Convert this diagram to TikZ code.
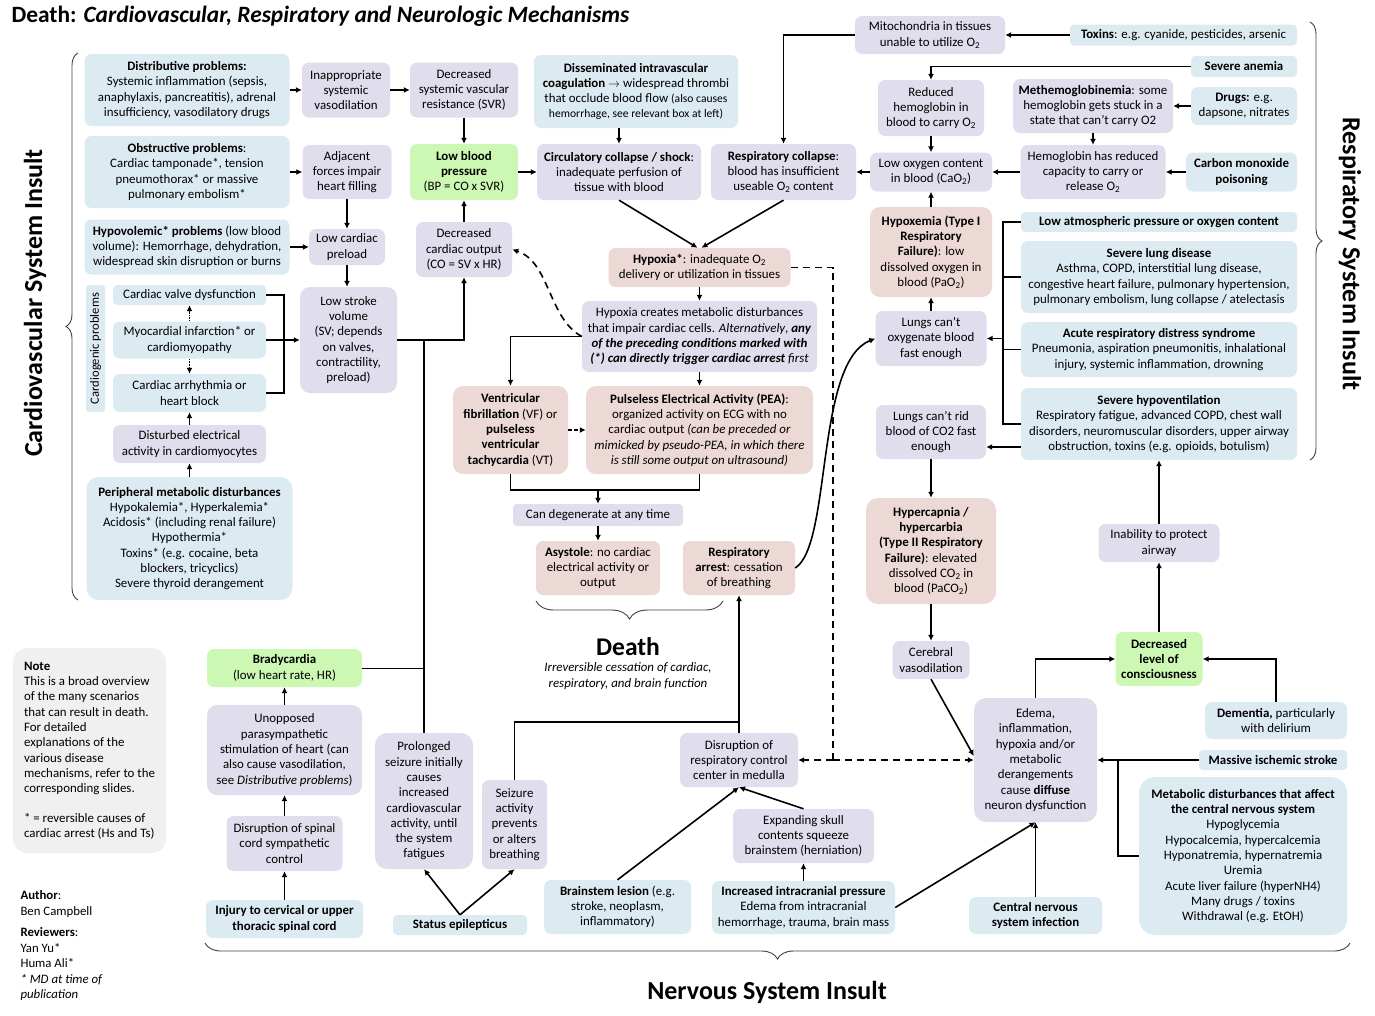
\documentclass[tikz,border=0pt]{standalone}
\usepackage{fontspec}
\setmainfont{Carlito}
\usepackage{tikz}
\usetikzlibrary{arrows.meta,decorations.pathreplacing,calc}
\definecolor{cblue}{RGB}{220,234,241}
\definecolor{clav}{RGB}{224,221,236}
\definecolor{cpink}{RGB}{236,216,213}
\definecolor{cgreen}{RGB}{205,248,180}
\definecolor{cnote}{RGB}{240,240,240}
\newcommand{\fs}{\fontsize{12.9}{15.3}\selectfont}
\newcommand{\sm}{\fontsize{11.6}{13}\selectfont}
\newcommand{\Ox}{O\textsubscript{2}}

\begin{document}
\begin{tikzpicture}[x=1pt, y=-1pt, font=\fs,
  box/.style 2 args={rounded corners=7, inner sep=1pt, align=center, minimum width=#1, minimum height=#2},
  bl/.style={fill=cblue}, lv/.style={fill=clav}, pk/.style={fill=cpink}, gr/.style={fill=cgreen},
  ln/.style={line width=1.6pt},
  ar/.style={ln, -{Latex[length=6pt,width=6pt]}},
  dsh/.style={ln, dash pattern=on 7pt off 5pt},
  brc/.style={draw=black!75, line width=0.9pt, decorate, decoration={brace, amplitude=#1}},
  big/.style={font=\fontsize{26}{30}\selectfont\bfseries}]
  \useasboundingbox (0,0) rectangle (1375,1015);

  \node[anchor=west, font=\fontsize{23.4}{27}\selectfont\bfseries] (title) at (8,16) {Death: \textit{Cardiovascular, Respiratory and Neurologic Mechanisms}};
  \node[big, rotate=90] (cvlbl) at (35,303) {Cardiovascular System Insult};
  \node[big, rotate=-90] (rslbl) at (1350,254) {Respiratory System Insult};
  \node[big] (nslbl) at (767,992) {Nervous System Insult};
  \draw[brc=12] (78,600) -- (78,53);
  \draw[brc=12] (1310,22) -- (1310,460);
  \draw[brc=16] (1350,943) -- (205,943);
  \draw[brc=18] (723,601) -- (536,601);
  \node[font=\fontsize{25.5}{30}\selectfont\bfseries] (death) at (628,647) {Death};
  \node[font=\fontsize{12.9}{15.3}\selectfont\itshape, align=center] (deathtxt) at (628,676) {Irreversible cessation of cardiac,\\respiratory, and brain function};

  \node[fill=cnote, box={153}{205}, rounded corners=14, align=left] (note) at (89.5,750.5) {\textbf{Note}\\This is a broad overview\\of the many scenarios\\that can result in death.\\For detailed\\explanations of the\\various disease\\mechanisms, refer to the\\corresponding slides.\\[14pt]* = reversible causes of\\cardiac arrest (Hs and Ts)};
  \node[anchor=north west, align=left, font=\fontsize{12.8}{15.5}\selectfont] (auth) at (17,887) {\textbf{Author}:\\Ben Campbell\\[6pt]\textbf{Reviewers}:\\Yan Yu*\\Huma Ali*\\\textit{* MD at time of}\\\textit{publication}};

  \node[bl, box={205}{72}] (distr) at (187,90) {\textbf{Distributive problems:}\\Systemic inflammation (sepsis,\\anaphylaxis, pancreatitis), adrenal\\insufficiency, vasodilatory drugs};
  \node[bl, box={205}{72}] (obstr) at (187,172) {\textbf{Obstructive problems}:\\Cardiac tamponade*, tension\\pneumothorax* or massive\\pulmonary embolism*};
  \node[bl, box={205}{55}] (hypov) at (187,247) {\textbf{Hypovolemic* problems} (low blood\\volume): Hemorrhage, dehydration,\\widespread skin disruption or burns};
  \node[bl, box={127}{19}, rounded corners=3, rotate=90, font=\fontsize{12.6}{13}\selectfont] (cgl) at (95.5,348.5) {Cardiogenic problems};
  \node[bl, box={153}{20}, rounded corners=4] (valve) at (189.5,295) {Cardiac valve dysfunction};
  \node[bl, box={153}{37}] (mi) at (189.5,340) {Myocardial infarction* or\\cardiomyopathy};
  \node[bl, box={153}{38}] (arrh) at (189.5,393) {Cardiac arrhythmia or\\heart block};
  \node[lv, box={153}{38}] (dist) at (189.5,444) {Disturbed electrical\\activity in cardiomyocytes};
  \node[bl, box={206}{123}, rounded corners=12] (periph) at (189.5,538.5) {\textbf{Peripheral metabolic disturbances}\\Hypokalemia*, Hyperkalemia*\\Acidosis* (including renal failure)\\Hypothermia*\\Toxins* (e.g. cocaine, beta\\blockers, tricyclics)\\Severe thyroid derangement};

  \node[lv, box={88}{55}] (inapp) at (346,90) {Inappropriate\\systemic\\vasodilation};
  \node[lv, box={89}{54}] (adj) at (347,172) {Adjacent\\forces impair\\heart filling};
  \node[lv, box={76}{36}] (lowpre) at (347,247) {Low cardiac\\preload};
  \node[lv, box={97}{106}, rounded corners=10] (lsv) at (348.5,340) {Low stroke\\volume\\(SV; depends\\on valves,\\contractility,\\preload)};
  \node[lv, box={108}{55}] (dsvr) at (464,90) {Decreased\\systemic vascular\\resistance (SVR)};
  \node[gr, box={108}{56}] (lowbp) at (464,172) {\textbf{Low blood}\\\textbf{pressure}\\(BP = CO x SVR)};
  \node[lv, box={96}{55}] (dco) at (464,249.5) {Decreased\\cardiac output\\(CO = SV x HR)};
  \node[bl, box={204}{73}] (dic) at (636,91.5) {\textbf{Disseminated intravascular}\\\textbf{coagulation} $\rightarrow$ widespread thrombi\\that occlude blood flow {\sm (also causes}\\{\sm hemorrhage, see relevant box at left)}};
  \node[lv, box={164}{56}] (circ) at (619,172) {\textbf{Circulatory collapse / shock}:\\inadequate perfusion of\\tissue with blood};
  \node[lv, box={145}{56}] (respcol) at (783.5,172) {\textbf{Respiratory collapse}:\\blood has insufficient\\useable \Ox{} content};
  \node[pk, box={182}{39}] (hypoxia) at (699.5,267.5) {\textbf{Hypoxia*}: inadequate \Ox\\delivery or utilization in tissues};
  \node[lv, box={235}{71}] (hcm) at (699.5,336.5) {Hypoxia creates metabolic disturbances\\that impair cardiac cells. \textit{Alternatively}, \textbf{\textit{any}}\\\textbf{\textit{of the preceding conditions marked with}}\\\textbf{\textit{(*) can directly trigger cardiac arrest}} \textit{first}};
  \node[pk, box={115}{88}, rounded corners=10] (vf) at (510.5,430) {\textbf{Ventricular}\\\textbf{fibrillation} (VF) or\\\textbf{pulseless}\\\textbf{ventricular}\\\textbf{tachycardia} (VT)};
  \node[pk, box={227}{88}, rounded corners=10] (pea) at (699.5,430) {\textbf{Pulseless Electrical Activity (PEA)}:\\organized activity on ECG with no\\cardiac output \textit{(can be preceded or}\\\textit{mimicked by pseudo-PEA, in which there}\\\textit{is still some output on ultrasound)}};
  \node[lv, box={170}{22}, rounded corners=4] (degen) at (598,515) {Can degenerate at any time};
  \node[pk, box={124}{54}] (asys) at (598,568) {\textbf{Asystole}: no cardiac\\electrical activity or\\output};
  \node[pk, box={112}{54}] (resparr) at (739,568) {\textbf{Respiratory}\\\textbf{arrest}: cessation\\of breathing};

  \node[lv, box={150}{38}] (mito) at (930,35) {Mitochondria in tissues\\unable to utilize \Ox};
  \node[bl, box={227}{21}, rounded corners=4] (toxins) at (1183.5,35) {\textbf{Toxins}: e.g. cyanide, pesticides, arsenic};
  \node[bl, box={106}{21}, rounded corners=4] (anemia) at (1244,66.5) {\textbf{Severe anemia}};
  \node[lv, box={106}{56}] (redhb) at (931,108) {Reduced\\hemoglobin in\\blood to carry \Ox};
  \node[lv, box={160}{54}] (methb) at (1093,106) {\textbf{Methemoglobinemia}: some\\hemoglobin gets stuck in a\\state that can’t carry O2};
  \node[bl, box={106}{38}] (drugs) at (1244,106) {\textbf{Drugs:} e.g.\\dapsone, nitrates};
  \node[lv, box={122}{39}] (lowox) at (931,172) {Low oxygen content\\in blood (CaO\textsubscript{2})};
  \node[lv, box={145}{54}] (hbcap) at (1093,172) {Hemoglobin has reduced\\capacity to carry or\\release \Ox};
  \node[bl, box={111}{39}] (cop) at (1241.5,172) {\textbf{Carbon monoxide}\\\textbf{poisoning}};
  \node[pk, box={122}{90}, rounded corners=10] (hypoxem) at (931,252) {\textbf{Hypoxemia (Type I}\\\textbf{Respiratory}\\\textbf{Failure)}: low\\dissolved oxygen in\\blood (PaO\textsubscript{2})};
  \node[lv, box={111}{55}] (lungox) at (931,338.5) {Lungs can’t\\oxygenate blood\\fast enough};
  \node[bl, box={276}{20}, rounded corners=4] (lowatm) at (1159,222) {\textbf{Low atmospheric pressure or oxygen content}};
  \node[bl, box={276}{72}] (lung) at (1159,277) {\textbf{Severe lung disease}\\Asthma, COPD, interstitial lung disease,\\congestive heart failure, pulmonary hypertension,\\pulmonary embolism, lung collapse / atelectasis};
  \node[bl, box={276}{55}] (ards) at (1159,349.5) {\textbf{Acute respiratory distress syndrome}\\Pneumonia, aspiration pneumonitis, inhalational\\injury, systemic inflammation, drowning};
  \node[bl, box={276}{72}] (hypovent) at (1159,424) {\textbf{Severe hypoventilation}\\Respiratory fatigue, advanced COPD, chest wall\\disorders, neuromuscular disorders, upper airway\\obstruction, toxins (e.g. opioids, botulism)};
  \node[lv, box={110}{54}] (lungco2) at (931,432) {Lungs can’t rid\\blood of CO2 fast\\enough};
  \node[pk, box={130}{106}, rounded corners=12] (hypercap) at (931,551) {\textbf{Hypercapnia /}\\\textbf{hypercarbia}\\\textbf{(Type II Respiratory}\\\textbf{Failure)}: elevated\\dissolved CO\textsubscript{2} in\\blood (PaCO\textsubscript{2})};
  \node[lv, box={121}{38}] (inab) at (1159,543) {Inability to protect\\airway};

  \node[lv, box={77}{38}] (cereb) at (931,660) {Cerebral\\vasodilation};
  \node[gr, box={87}{54}] (declev) at (1159,659) {\textbf{Decreased}\\\textbf{level of}\\\textbf{consciousness}};
  \node[lv, box={123}{124}, rounded corners=12] (edema) at (1035.5,760) {Edema,\\inflammation,\\hypoxia and/or\\metabolic\\derangements\\cause \textbf{diffuse}\\neuron dysfunction};
  \node[bl, box={142}{37}] (dement) at (1276,720.5) {\textbf{Dementia,} particularly\\with delirium};
  \node[bl, box={148}{20}, rounded corners=4] (stroke) at (1273,760) {\textbf{Massive ischemic stroke}};
  \node[bl, box={208}{158}, rounded corners=16] (metab) at (1243,856) {\textbf{Metabolic disturbances that affect}\\\textbf{the central nervous system}\\Hypoglycemia\\Hypocalcemia, hypercalcemia\\Hyponatremia, hypernatremia\\Uremia\\Acute liver failure (hyperNH4)\\Many drugs / toxins\\Withdrawal (e.g. EtOH)};
  \node[bl, box={133}{37}] (cns) at (1035.5,915.5) {\textbf{Central nervous}\\\textbf{system infection}};
  \node[bl, box={183}{53}] (icp) at (803.5,907.5) {\textbf{Increased intracranial pressure}\\Edema from intracranial\\hemorrhage, trauma, brain mass};
  \node[lv, box={141}{54}] (expand) at (803.5,836) {Expanding skull\\contents squeeze\\brainstem (herniation)};
  \node[lv, box={118}{54}] (disr) at (739,760) {Disruption of\\respiratory control\\center in medulla};
  \node[bl, box={147}{54}] (brain) at (617.5,907) {\textbf{Brainstem lesion} (e.g.\\stroke, neoplasm,\\inflammatory)};
  \node[lv, box={65}{89}] (seiz) at (514.5,824.5) {Seizure\\activity\\prevents\\or alters\\breathing};
  \node[lv, box={98}{136}, rounded corners=12] (prol) at (424,801) {Prolonged\\seizure initially\\causes\\increased\\cardiovascular\\activity, until\\the system\\fatigues};
  \node[bl, box={134}{20}, rounded corners=4] (status) at (460,925) {\textbf{Status epilepticus}};
  \node[gr, box={155}{38}] (brady) at (284.5,668) {\textbf{Bradycardia}\\(low heart rate, HR)};
  \node[lv, box={155}{90}, rounded corners=10] (unopp) at (284.5,750) {Unopposed\\parasympathetic\\stimulation of heart (can\\also cause vasodilation,\\see \textit{Distributive problems})};
  \node[lv, box={116}{55}] (spinal) at (284.5,843.5) {Disruption of spinal\\cord sympathetic\\control};
  \node[bl, box={157}{38}] (injury) at (284.5,919) {\textbf{Injury to cervical or upper}\\\textbf{thoracic spinal cord}};

  \coordinate (rj) at (1003,338.5);
  \coordinate (vj) at (598,490);
  \coordinate (sj) at (739,722);
  \coordinate (dj) at (833,760);
  \coordinate (mj) at (1118,760);

  \draw[ar] (distr.east) -- (inapp.west);
  \draw[ar] (inapp.east) -- (dsvr.west);
  \draw[ar] (obstr.east) -- (adj.west);
  \draw[ar] (hypov.east) -- (lowpre.west);
  \draw[ar] (adj.south) -- (lowpre.north);
  \draw[ar] (lowpre.south) -- (lowpre.south |- lsv.north);
  \draw[ln] (valve.east) -- ++(18,0) |- (arrh.east);
  \draw[ar] (mi.east) -- (lsv.west);
  \draw[ar, densely dotted] (mi.north) -- (valve.south);
  \draw[ar, densely dotted] (mi.south) -- (arrh.north);
  \draw[ar] (dist.north) -- (arrh.south);
  \draw[ar] (periph.north) -- (dist.south);
  \draw[ar] (lsv.east) -| (dco.south);
  \draw[ln] (prol.north) -- (prol.north |- lsv.east);
  \draw[line width=1pt] (brady.east) -- (brady.east -| prol.north);
  \draw[ar] (dsvr.south) -- (lowbp.north);
  \draw[ar] (dco.north) -- (lowbp.south);
  \draw[ar] (lowbp.east) -- (circ.west);
  \draw[ar] (dic.south -| circ.north) -- (circ.north);
  \draw[ar] (circ.south) -- ([xshift=-2pt]hypoxia.north);
  \draw[ar] (respcol.south) -- ([xshift=2pt]hypoxia.north);
  \draw[ar] (mito.west) -| (respcol.north);
  \draw[ar] (toxins.west) -- (mito.east);
  \draw[ar] (anemia.west) -| (redhb.north);
  \draw[ar] (redhb.south) -- (lowox.north);
  \draw[ar] (drugs.west) -- (methb.east);
  \draw[ar] (methb.south) -- (hbcap.north);
  \draw[ar] (cop.west) -- (hbcap.east);
  \draw[ar] (hbcap.west) -- (lowox.east);
  \draw[ar] (lowox.west) -- (respcol.east);
  \draw[ar] (hypoxem.north) -- (lowox.south);
  \draw[ar] (lungox.north) -- (hypoxem.south);
  \draw[ln] (lowatm.west) -| (rj) |- (hypovent.west);
  \foreach \n in {lung,ards} \draw[ln] (\n.west) -- (\n.west -| rj);
  \draw[ar] (rj) -- (lungox.east);
  \draw[ar] ([yshift=-23pt]hypovent.west) -- ([yshift=-23pt]hypovent.west -| lungco2.east);
  \draw[ar] (lungco2.south) -- (hypercap.north);
  \draw[ar] (hypercap.south) -- (cereb.north);
  \draw[ar] (hypoxia.south) -- (hcm.north);
  \draw[ar] (hcm.west) -| (vf.north);
  \draw[ar, dsh] (hcm.west) .. controls (548,318) and (550,262) .. (dco.east);
  \draw[ar] (hcm.south) -- (pea.north);
  \draw[ar, dash pattern=on 4pt off 2pt] (vf.east) -- (pea.west);
  \draw[ln] (vf.south) |- (vj) -| (pea.south);
  \draw[ar] (vj) -- (degen.north);
  \draw[ar] (degen.south) -- (asys.north);
  \draw[ar] (resparr.east) .. controls (832,545) and (815,362) .. (lungox.west);
  \draw[ar] (disr.north) -- (resparr.south);
  \draw[ln] (seiz.north) |- (sj);
  \draw[dsh] (hypoxia.east) -| (dj);
  \draw[ar, dsh] (dj) -- (disr.east);
  \draw[ar, dsh] (dj) -- (edema.west);
  \draw[ar] (cereb.south) -- ([yshift=4pt]edema.west);
  \draw[ar] (edema.north) |- (declev.west);
  \draw[ar] (dement.north) |- (declev.east);
  \draw[ar] (declev.north) -- (inab.south);
  \draw[ar] (inab.north) -- (hypovent.south);
  \draw[ar] (stroke.west) -- (edema.east);
  \draw[ln] (metab.west) -| (mj);
  \draw[ar] (cns.north) -- (edema.south);
  \draw[ar] (icp.east) -- (edema.south);
  \draw[ar] (icp.north) -- (expand.south);
  \draw[ar] (expand.north) -- (disr.south);
  \draw[ar] (brain.north) -- (disr.south);
  \draw[ar] (status.north) -- (prol.south);
  \draw[ar] (status.north) -- (seiz.south);
  \draw[ar] (injury.north) -- (spinal.south);
  \draw[ar] (spinal.north) -- (unopp.south);
  \draw[ar] (unopp.north) -- (brady.south);
\end{tikzpicture}
\end{document}
